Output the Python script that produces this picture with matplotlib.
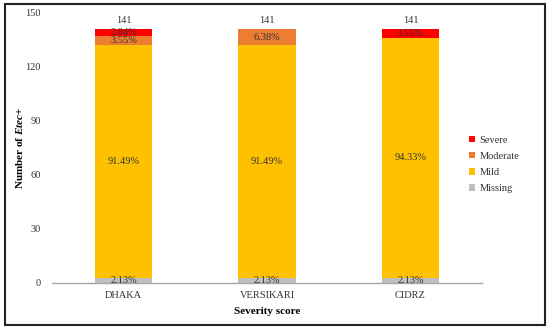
import matplotlib
matplotlib.use("Agg")
import matplotlib.pyplot as plt
from matplotlib.patches import Rectangle
import numpy as np

categories = ["DHAKA", "VERSIKARI", "CIDRZ"]
series_names = ["Missing", "Mild", "Moderate", "Severe"]
missing = [3, 3, 3]
mild = [129, 129, 133]
moderate = [5, 9, 0]
severe = [4, 0, 5]
totals = [141, 141, 141]
colors = ["#BFBFBF", "#FFC000", "#ED7D31", "#FF0000"]
yticks = [0, 30, 60, 90, 120, 150]

plt.rcParams['font.family'] = ['Liberation Serif', 'DejaVu Serif']
plt.rcParams['mathtext.fontset'] = 'custom'
plt.rcParams['mathtext.rm'] = 'Liberation Serif'
plt.rcParams['mathtext.bf'] = 'Liberation Serif:bold'
plt.rcParams['mathtext.it'] = 'Liberation Serif:italic'
plt.rcParams['mathtext.bfit'] = 'Liberation Serif:italic:bold'

fig = plt.figure(figsize=(5.5, 3.29), dpi=100)
ax = fig.add_axes([0.0945, 0.140, 0.782, 0.8205])

x = np.arange(len(categories))
data = [missing, mild, moderate, severe]
bottom = np.zeros(len(categories))
for name, vals, c in zip(series_names, data, colors):
    vals = np.array(vals, dtype=float)
    ax.bar(x, vals, 0.4, bottom=bottom, color=c, label=name, zorder=2)
    for xi, v, b, t in zip(x, vals, bottom, totals):
        if v > 0:
            ax.text(xi, b + v / 2, f"{v / t * 100:.2f}%", ha='center', va='center',
                    fontsize=7.5, color='#333333', zorder=3)
    bottom += vals

for xi, t in zip(x, totals):
    ax.text(xi, t + 2.2, str(t), ha='center', va='bottom', fontsize=7.5, color='#333333')

ax.set_xlim(-0.5, 2.5)
ax.set_ylim(0, 150)
ax.set_yticks(yticks)
ax.set_xticks(x)
ax.set_xticklabels(categories)
ax.tick_params(axis='both', length=0, labelsize=7.5, colors='#333333')
ax.tick_params(axis='y', pad=8)
ax.tick_params(axis='x', pad=6)
for s in ['top', 'right', 'left']:
    ax.spines[s].set_visible(False)
ax.spines['bottom'].set_color('#A6A6A6')
ax.spines['bottom'].set_linewidth(1.0)

ax.set_xlabel("Severity score", fontsize=8, fontweight='bold', labelpad=5)
fig.text(20 / 550, 1 - 148 / 329, r'$\mathbf{Number\ of\ }\mathbfit{Etec}\mathbf{+}$',
         rotation=90, ha='center', va='center', fontsize=8)

handles, labels = ax.get_legend_handles_labels()
leg = fig.legend(handles[::-1], labels[::-1], loc='center left',
                 bbox_to_anchor=(0.836, 0.50), frameon=False, fontsize=7.5,
                 handlelength=0.6, handleheight=0.6, handletextpad=0.4, labelspacing=0.7)
for t in leg.get_texts():
    t.set_color('#333333')

fig.patches.append(Rectangle((0.009, 0.012), 0.982, 0.976, transform=fig.transFigure,
                             fill=False, edgecolor='#222222', linewidth=1.5))

fig.savefig("out.png", dpi=100)
